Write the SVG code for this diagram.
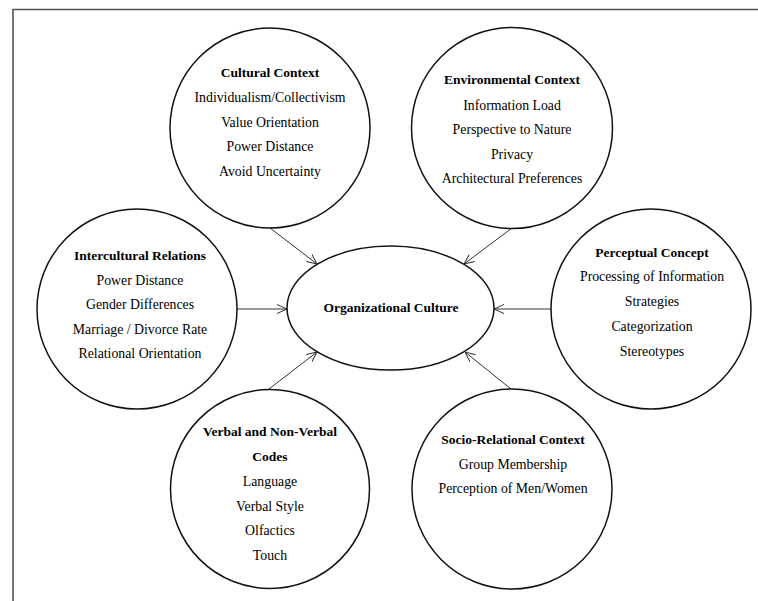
<svg xmlns="http://www.w3.org/2000/svg" width="758" height="601" viewBox="0 0 758 601">
<defs>
<style>
.frame{fill:none;stroke:#555;stroke-width:1.6}
.node{fill:#fff;stroke:#111;stroke-width:1.5}
.conn{stroke:#333;stroke-width:1;fill:none;marker-end:url(#arr)}
text{font-size:13.8px;fill:#000;text-anchor:middle}
.t{font-weight:bold;font-size:13.5px}
</style>
<marker id="arr" viewBox="0 0 10 10" refX="10" refY="5" markerWidth="10" markerHeight="10" markerUnits="userSpaceOnUse" orient="auto">
<path d="M0,0.5 L10,5 L0,9.5" fill="none" stroke="#333" stroke-width="1"/>
</marker>
</defs>
<rect width="758" height="601" fill="#fff"/>
<path class="frame" d="M13,601 V9.5 H758"/>
<g id="connectors">
<line class="conn" x1="270" y1="228" x2="317" y2="264"/>
<line class="conn" x1="512" y1="228" x2="464" y2="264"/>
<line class="conn" x1="237" y1="309" x2="287" y2="309"/>
<line class="conn" x1="551" y1="309" x2="494" y2="309"/>
<line class="conn" x1="269" y1="389" x2="317" y2="352"/>
<line class="conn" x1="511" y1="389" x2="465" y2="352"/>
</g>
<g font-family="'Liberation Serif', 'Times New Roman', serif">
<g id="cultural">
<circle class="node" cx="270" cy="128" r="100"/>
<text class="t" x="270" y="77">Cultural Context</text>
<text x="270" y="102">Individualism/Collectivism</text>
<text x="270" y="127">Value Orientation</text>
<text x="270" y="151">Power Distance</text>
<text x="270" y="176">Avoid Uncertainty</text>
</g>
<g id="environmental">
<circle class="node" cx="512" cy="128" r="100.5"/>
<text class="t" x="512" y="84">Environmental Context</text>
<text x="512" y="110">Information Load</text>
<text x="512" y="134">Perspective to Nature</text>
<text x="512" y="159">Privacy</text>
<text x="512" y="183">Architectural Preferences</text>
</g>
<g id="intercultural">
<circle class="node" cx="137" cy="309" r="100"/>
<text class="t" x="140" y="260">Intercultural Relations</text>
<text x="140" y="285">Power Distance</text>
<text x="140" y="309">Gender Differences</text>
<text x="140" y="334">Marriage / Divorce Rate</text>
<text x="140" y="358">Relational Orientation</text>
</g>
<g id="perceptual">
<circle class="node" cx="651" cy="309" r="100"/>
<text class="t" x="652" y="257">Perceptual Concept</text>
<text x="652" y="281">Processing of Information</text>
<text x="652" y="306">Strategies</text>
<text x="652" y="331">Categorization</text>
<text x="652" y="356">Stereotypes</text>
</g>
<g id="verbal">
<circle class="node" cx="270" cy="489" r="99.5"/>
<text class="t" x="270" y="436">Verbal and Non-Verbal</text>
<text class="t" x="270" y="461">Codes</text>
<text x="270" y="486">Language</text>
<text x="270" y="511">Verbal Style</text>
<text x="270" y="535">Olfactics</text>
<text x="270" y="560">Touch</text>
</g>
<g id="socio">
<circle class="node" cx="512" cy="489" r="100"/>
<text class="t" x="513" y="444">Socio-Relational Context</text>
<text x="513" y="469">Group Membership</text>
<text x="513" y="493">Perception of Men/Women</text>
</g>
<g id="center">
<ellipse class="node" cx="390.5" cy="308" rx="103.5" ry="62"/>
<text class="t" x="391" y="312">Organizational Culture</text>
</g>
</g>
</svg>
